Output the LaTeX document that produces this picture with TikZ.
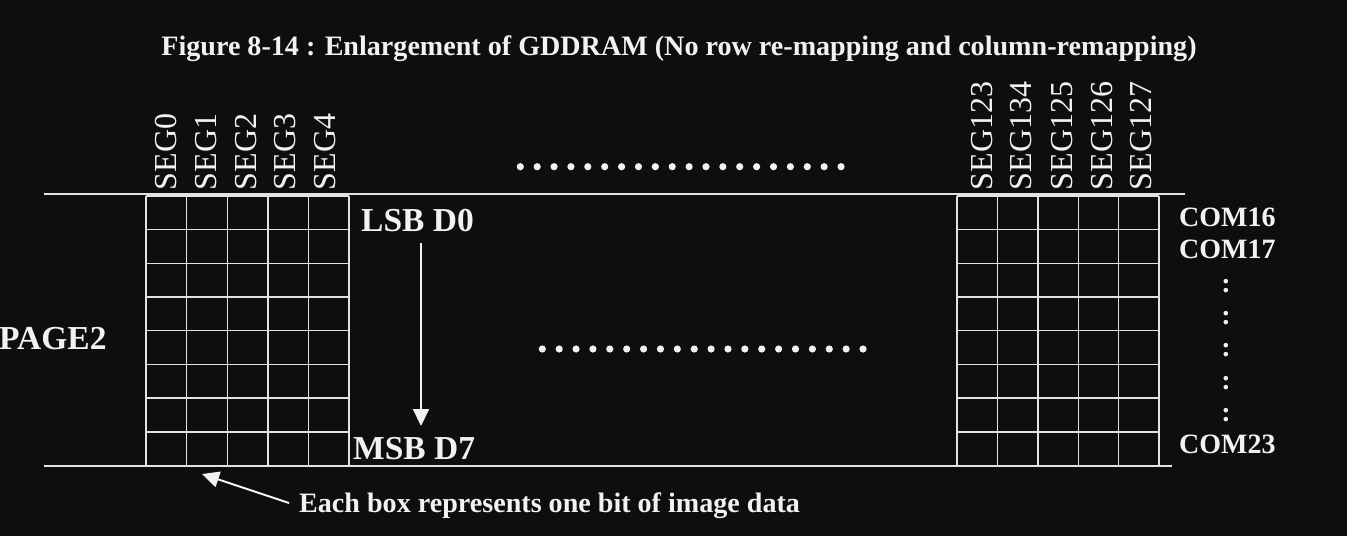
\documentclass[tikz,border=0pt]{standalone}
\usepackage{fontspec}
\setmainfont{Liberation Serif}
\usetikzlibrary{arrows.meta}
\definecolor{bgc}{HTML}{0E0E0E}
\definecolor{fgc}{HTML}{F2F2F2}
\definecolor{gridc}{HTML}{E2E2E2}
\begin{document}
\begin{tikzpicture}[x=1pt,y=-1pt,
  seglabel/.style={rotate=90,anchor=west,inner sep=0pt,text=fgc,font=\fontsize{32}{32}\selectfont},
  boldlbl/.style={anchor=base west,inner sep=0pt,text=fgc,font=\bfseries\fontsize{33.5}{33.5}\selectfont},
  comlbl/.style={anchor=base west,inner sep=0pt,text=fgc,font=\bfseries\fontsize{28}{28}\selectfont},
  colonlbl/.style={anchor=base,inner sep=0pt,text=fgc,font=\bfseries\fontsize{28}{28}\selectfont},
  gridline/.style={draw=gridc,line width=1.4pt},
  longline/.style={draw=gridc,line width=2pt},
  arrowline/.style={draw=fgc,line width=2pt,-{Triangle[width=16pt,length=17pt]}},
  dotmark/.style={fill=fgc,draw=none}
]
\fill[bgc] (0,0) rectangle (1347,536);
\useasboundingbox (0,0) rectangle (1347,536);

% title
\node[anchor=base,inner sep=0pt,text=fgc,font=\bfseries\fontsize{28.1}{28.1}\selectfont] (title) at (679,55)
  {Figure 8-14 : Enlargement of GDDRAM (No row re-mapping and column-remapping)};

% long horizontal lines
\coordinate (tl) at (44,194);
\coordinate (tr) at (1185,194);
\coordinate (bl) at (44,465.5);
\coordinate (br) at (1172,465.5);
\draw[longline] (tl) -- (tr);
\draw[longline] (bl) -- (br);

% left grid
\foreach \i in {0,...,5} {
  \draw[gridline] ({146+\i*40.6},196) -- ({146+\i*40.6},465.5);
}
\foreach \j in {0,...,8} {
  \draw[gridline] (146,{196+\j*33.69}) -- (349,{196+\j*33.69});
}
% right grid
\foreach \i in {0,...,5} {
  \draw[gridline] ({957+\i*40.4},196) -- ({957+\i*40.4},465.5);
}
\foreach \j in {0,...,8} {
  \draw[gridline] (957,{196+\j*33.69}) -- (1159,{196+\j*33.69});
}

% SEG labels
\node[seglabel] (s0) at (166,190.5) {SEG0};
\node[seglabel] (s1) at (206,190.5) {SEG1};
\node[seglabel] (s2) at (246,190.5) {SEG2};
\node[seglabel] (s3) at (285.5,190.5) {SEG3};
\node[seglabel] (s4) at (325,190.5) {SEG4};
\node[seglabel] (s123) at (982,190.5) {SEG123};
\node[seglabel] (s134) at (1021.5,190.5) {SEG134};
\node[seglabel] (s125) at (1062,190.5) {SEG125};
\node[seglabel] (s126) at (1102,190.5) {SEG126};
\node[seglabel] (s127) at (1141.5,190.5) {SEG127};

% dot rows
\foreach \k in {0,...,19} {
  \fill[dotmark] ({520.3+\k*16.88},166.7) circle (3.6);
  \fill[dotmark] ({542.3+\k*16.88},349) circle (3.6);
}

% labels
\node[boldlbl] (lsb) at (361,231) {LSB D0};
\node[boldlbl] (msb) at (353,459) {MSB D7};
\node[boldlbl] (page) at (-1,349) {PAGE2};

\node[comlbl] (c16) at (1179,226.7) {COM16};
\node[comlbl] (c17) at (1179,258.3) {COM17};
\node[comlbl] (c23) at (1179,453.3) {COM23};
\node[colonlbl] (d1) at (1226,292) {:};
\node[colonlbl] (d2) at (1226,324) {:};
\node[colonlbl] (d3) at (1226,356) {:};
\node[colonlbl] (d4) at (1226,389) {:};
\node[colonlbl] (d5) at (1226,421) {:};

% arrows
\coordinate (va) at (421,243);
\coordinate (vb) at (421,426);
\draw[arrowline] (va) -- (vb);

\node[anchor=base west,inner sep=0pt,text=fgc,font=\bfseries\fontsize{28.1}{28.1}\selectfont] (note) at (299,512.7)
  {Each box represents one bit of image data};
\coordinate (ntail) at (289,503);
\coordinate (ntip) at (202,474);
\draw[arrowline] (ntail) -- (ntip);
\end{tikzpicture}
\end{document}
